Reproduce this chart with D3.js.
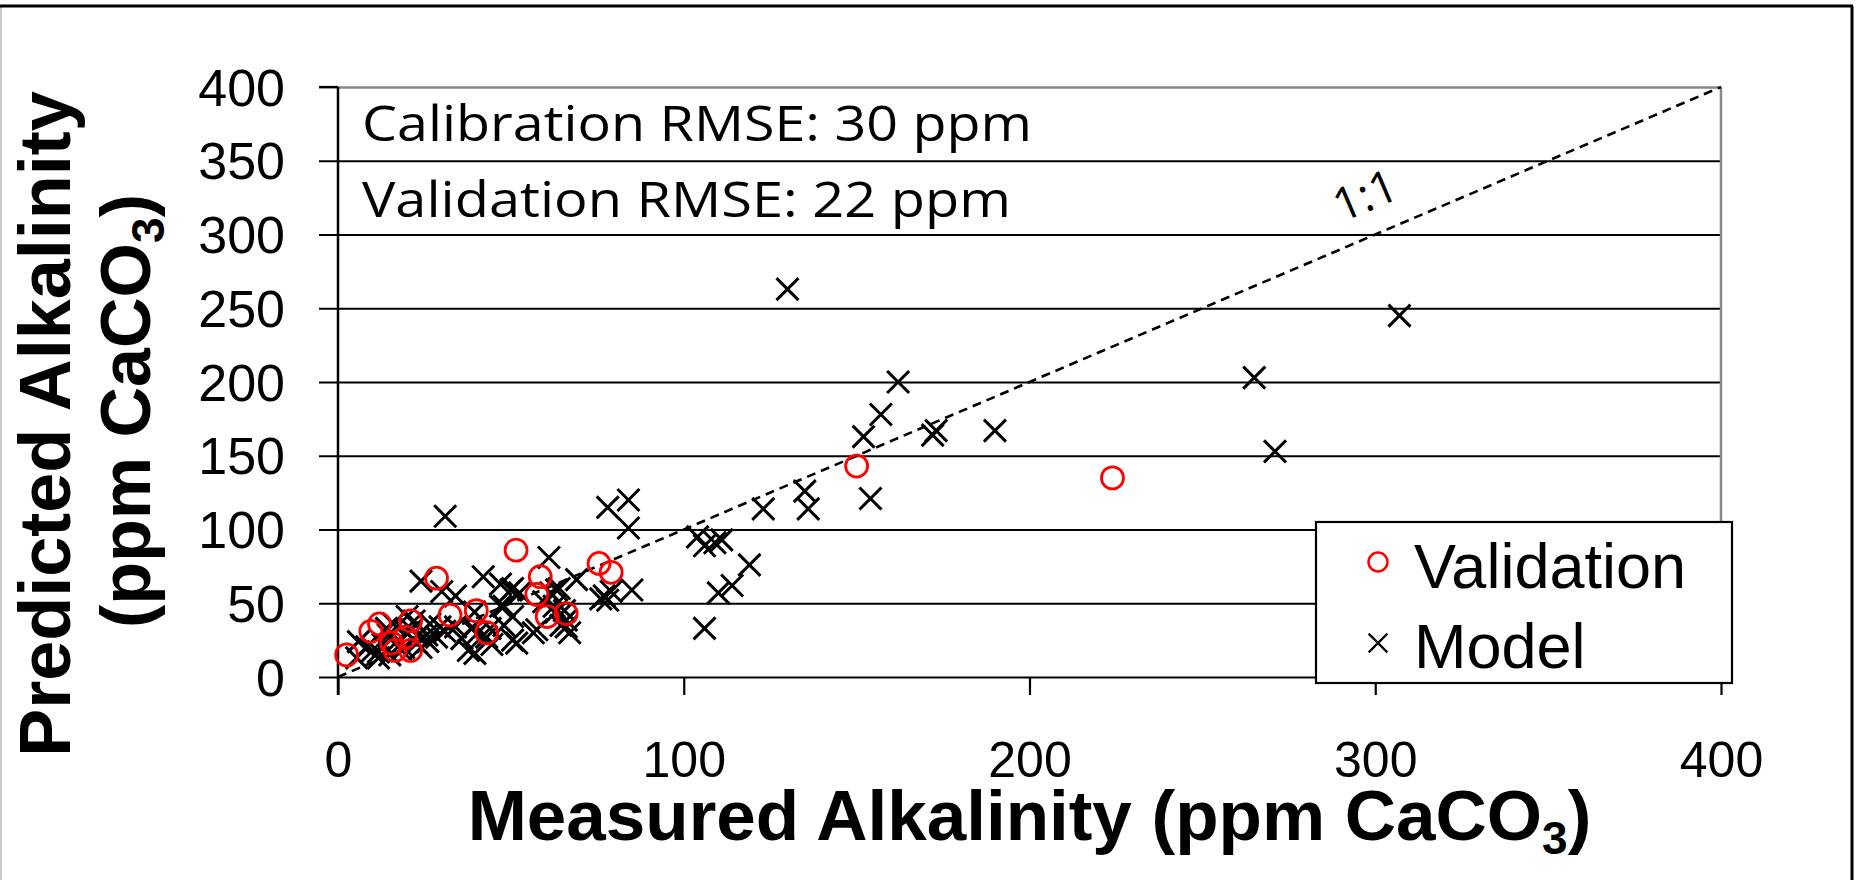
<!DOCTYPE html>
<html>

<head>
	<meta charset="UTF-8" />
	<title>Alkalinity calibration</title>
	<script src="https://d3js.org/d3.v7.min.js"></script>
	<style>
		body { margin: 0; background: #fff; }
		text { font-family: "Liberation Sans", Arial, sans-serif; }
	</style>
</head>

<body>
	<svg id="chart"></svg>

	<script type="text/javascript">
	// data (ppm CaCO3)
	var valMeasured  = [2.5, 9.5, 12, 15.5, 16.5, 19.5, 21, 21, 28.5, 32.4, 40, 43, 51.5, 57.5, 58.5, 60.5, 66, 75.5, 79, 150, 224]
	var valPredicted = [15, 31, 36, 23, 18, 27, 18, 38, 67, 42, 45, 30, 86, 56, 68, 41, 43, 77, 71, 143, 135]

	var modMeasured  = [130, 307, 265, 271, 162, 157, 152, 172, 173, 190, 154, 135, 136, 123, 104, 106, 111, 109, 119, 114, 110, 106,
		84, 78, 84, 85, 31, 61, 77, 78, 79, 76, 69, 61.5, 64, 59.5, 62.5, 65.5, 67, 64.5, 56.5, 57.5, 51.7, 47, 50, 52.5, 50.5,
		42, 47, 48, 39.5, 30, 34, 44, 48, 50.5, 44.5, 43, 40.5, 38.5, 34, 35.8, 37.7, 39.6, 30.9, 29.5, 28.5, 26.6, 25.7, 22.8,
		21.3, 20, 18.4, 17.4, 16, 14.5, 11.7, 11.7, 8.3, 5.9, 5.4, 24, 66, 66, 63, 62, 63.2, 10, 13, 15, 19, 23, 24, 26, 20, 14, 22, 50.5]
	var modPredicted = [263, 245, 203, 153, 200, 178, 163, 164, 167, 167, 121, 126, 114, 114, 95, 89, 93, 91, 76, 62, 57, 33,
		120, 115, 101, 59, 109, 81, 55, 52, 58, 53, 66, 57, 60, 51, 48, 45, 30, 35, 30, 32, 23, 48, 59, 57, 41,
		68, 63, 48, 44, 58, 55, 33, 35, 25, 22, 27, 30, 33, 34, 26, 18, 16, 31, 34, 27, 36, 28.5, 23,
		32, 41, 18, 25, 36, 28.5, 13, 17, 20.5, 24, 13, 65, 38.6, 34, 44, 55.6, 59, 18, 22, 15, 20, 28, 20, 24, 30, 33, 38, 60]

	var axisTicks = [0, 50, 100, 150, 200, 250, 300, 350, 400]
	var xTickLabels = [0, 100, 200, 300, 400]
	var notes = ["Calibration RMSE: 30 ppm", "Validation RMSE: 22 ppm"]
	var legendNames = ["Validation", "Model"]

	var W = 1860, H = 880
	// plot box (window.top is reserved, so prefix the names)
	var pLeft = 338, pRight = 1721, pTop = 87, pBottom = 677

	var svg = d3.select("#chart")
		.attr("width", W)
		.attr("height", H)

	// outer frame
	svg.append("line").attr("x1", 1).attr("x2", 1).attr("y1", 6).attr("y2", H)
		.attr("stroke", "#c8c8c8").attr("stroke-width", 2)
	svg.append("line").attr("x1", 0).attr("x2", 1853).attr("y1", 6).attr("y2", 6)
		.attr("stroke", "#000").attr("stroke-width", 3)
	svg.append("line").attr("x1", 1852).attr("x2", 1852).attr("y1", 6).attr("y2", H)
		.attr("stroke", "#000").attr("stroke-width", 3)

	var x = d3.scaleLinear().domain([0, 400]).range([pLeft, pRight])
	var y = d3.scaleLinear().domain([0, 400]).range([pBottom, pTop])

	// y axis + gridlines
	var yAxis = d3.axisLeft(y)
		.tickValues(axisTicks)
		.tickSize(-(pRight - 319))
		.tickPadding(34)
	var gy = svg.append("g")
		.attr("transform", "translate(319,0)")
		.call(yAxis)
	gy.select(".domain").remove()
	gy.selectAll(".tick line")
		.attr("stroke", d => d == 400 ? "#888" : "#000")
		.attr("stroke-width", d => d == 400 ? 2.5 : 2.2)
	gy.selectAll(".tick text")
		.attr("dy", "0.35em")
		.style("font-size", "52px")
		.style("font-family", "Liberation Sans, Arial, sans-serif")
		.attr("fill", "#000")
	// black stub for the 400 tick
	svg.append("line").attr("x1", 319).attr("x2", pLeft).attr("y1", y(400)).attr("y2", y(400))
		.attr("stroke", "#000").attr("stroke-width", 2.2)

	// x axis
	var xAxis = d3.axisBottom(x)
		.tickValues(xTickLabels)
		.tickSize(18)
	var gx = svg.append("g")
		.attr("transform", "translate(0," + pBottom + ")")
		.call(xAxis)
	gx.select(".domain").remove()
	gx.selectAll(".tick line").attr("stroke", "#000").attr("stroke-width", 2.2)
	gx.selectAll(".tick text")
		.attr("y", 100)
		.attr("dy", null)
		.style("font-size", "50px")
		.style("font-family", "Liberation Sans, Arial, sans-serif")
		.attr("fill", "#000")

	// plot border: left/bottom black, top/right grey
	svg.append("line").attr("x1", pLeft).attr("x2", pLeft).attr("y1", pTop).attr("y2", pBottom + 18)
		.attr("stroke", "#000").attr("stroke-width", 2.5)
	svg.append("line").attr("x1", pRight).attr("x2", pRight).attr("y1", pTop).attr("y2", pBottom)
		.attr("stroke", "#888").attr("stroke-width", 2.5)

	// 1:1 line
	svg.append("line")
		.attr("x1", x(0)).attr("y1", y(0))
		.attr("x2", x(400)).attr("y2", y(400))
		.attr("stroke", "#000")
		.attr("stroke-width", 2.6)
		.attr("stroke-dasharray", "9,6")

	var ang = Math.atan2(y(400) - y(0), x(400) - x(0)) * 180 / Math.PI
	svg.append("text")
		.attr("transform", "translate(" + x(300) + "," + y(300) + ") rotate(" + ang + ")")
		.attr("x", 6)
		.attr("y", -24)
		.attr("text-anchor", "middle")
		.style("font-family", "Open Sans, sans-serif")
		.style("font-size", "46px")
		.text("1:1")

	// model points (x marks)
	var model = modMeasured.map((m, i) => ({ m: m, p: modPredicted[i] }))
	var valid = valMeasured.map((m, i) => ({ m: m, p: valPredicted[i] }))

	svg.selectAll(".model")
		.data(model)
		.enter()
		.append("path")
		.attr("class", "model")
		.attr("transform", d => "translate(" + x(d.m) + "," + y(d.p) + ")")
		.attr("d", d3.symbol(d3.symbolTimes, 318))
		.attr("fill", "none")
		.attr("stroke", "#000")
		.attr("stroke-width", 3)

	svg.selectAll(".valid")
		.data(valid)
		.enter()
		.append("circle")
		.attr("class", "valid")
		.attr("cx", d => x(d.m))
		.attr("cy", d => y(d.p))
		.attr("r", 11)
		.attr("fill", "none")
		.attr("stroke", "#ff0000")
		.attr("stroke-width", 2.8)

	// RMSE notes
	svg.selectAll(".note")
		.data(notes)
		.enter()
		.append("text")
		.attr("class", "note")
		.attr("x", 362)
		.attr("y", (d, i) => 141 + i * 76)
		.attr("textLength", (d, i) => i == 0 ? 670 : 649)
		.attr("lengthAdjust", "spacingAndGlyphs")
		.style("font-family", "Open Sans, sans-serif")
		.style("font-size", "50px")
		.text(d => d)

	// legend
	var lg = svg.append("g")
	lg.append("rect")
		.attr("x", 1316).attr("y", 522)
		.attr("width", 416).attr("height", 161)
		.attr("fill", "#fff")
		.attr("stroke", "#000")
		.attr("stroke-width", 2.2)
	lg.append("circle")
		.attr("cx", 1378).attr("cy", 562).attr("r", 9.5)
		.attr("fill", "none").attr("stroke", "#ff0000").attr("stroke-width", 2.5)
	lg.append("path")
		.attr("transform", "translate(1378,643)")
		.attr("d", d3.symbol(d3.symbolTimes, 230))
		.attr("fill", "none").attr("stroke", "#000").attr("stroke-width", 2.2)
	lg.selectAll(".lgText")
		.data(legendNames)
		.enter()
		.append("text")
		.attr("class", "lgText")
		.attr("x", 1414)
		.attr("y", (d, i) => 588 + i * 80)
		.style("font-size", "63px")
		.text(d => d)

	// axis titles
	svg.append("text")
		.attr("x", (pLeft + pRight) / 2)
		.attr("y", 840)
		.attr("text-anchor", "middle")
		.style("font-weight", "bold")
		.style("font-size", "71px")
		.html('Measured Alkalinity (ppm CaCO<tspan dy="14" font-size="46px">3</tspan><tspan dy="-14">)</tspan>')

	svg.append("text")
		.attr("transform", "translate(70,424) rotate(-90)")
		.attr("text-anchor", "middle")
		.style("font-weight", "bold")
		.style("font-size", "72px")
		.text("Predicted Alkalinity")

	svg.append("text")
		.attr("transform", "translate(150,411) rotate(-90)")
		.attr("text-anchor", "middle")
		.style("font-weight", "bold")
		.style("font-size", "70px")
		.html('(ppm CaCO<tspan dy="14" font-size="46px">3</tspan><tspan dy="-14">)</tspan>')
	</script>
</body>
</html>
